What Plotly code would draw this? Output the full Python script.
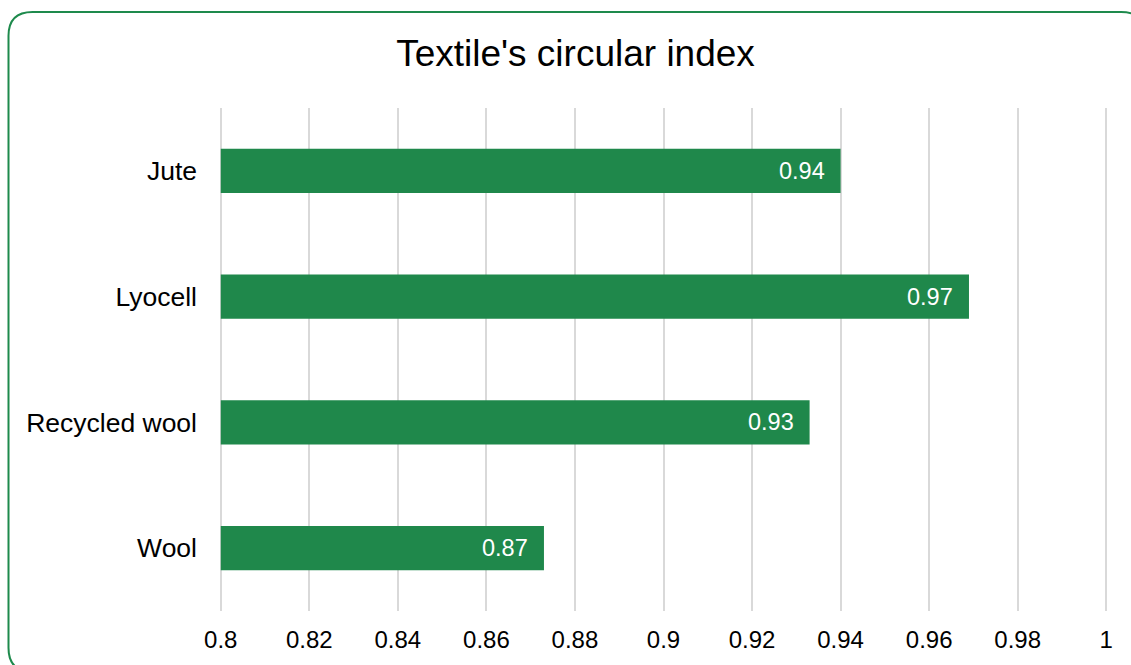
import plotly.graph_objects as go

categories = ["Jute", "Lyocell", "Recycled wool", "Wool"]
values = [0.940, 0.969, 0.933, 0.873]
x_ticks = [0.8, 0.82, 0.84, 0.86, 0.88, 0.9, 0.92, 0.94, 0.96, 0.98, 1.0]
x_tick_labels = ["0.8", "0.82", "0.84", "0.86", "0.88", "0.9", "0.92", "0.94", "0.96", "0.98", "1"]
axis_min = 0.8

GREEN = "#1f884b"
FONT = "Arial, Liberation Sans, sans-serif"
W, H = 1131, 665
ML, MR, MT, MB = 219, 23, 108, 52
PW, PH = W - ML - MR, H - MT - MB

fig = go.Figure()
fig.add_trace(go.Bar(
    y=categories, x=[v - axis_min for v in values], base=axis_min, orientation="h",
    marker=dict(color=GREEN, line=dict(width=0)),
    width=0.35,
    hoverinfo="skip",
))

for c, v in zip(categories, values):
    fig.add_annotation(x=v, y=c, xref="x", yref="y", text=f"{v:.2f}",
                       showarrow=False, xanchor="right", xshift=-14,
                       font=dict(color="white", size=23.5, family=FONT))

def px(x):
    return (x - ML) / PW

def py(y):
    return (H - MB - y) / PH

x0, x1, y0, y1, r = 8.5, 1145, 11.5, 674, 24
path = (f"M {px(x0+r)},{py(y0)} L {px(x1-r)},{py(y0)} "
        f"Q {px(x1)},{py(y0)} {px(x1)},{py(y0+r)} L {px(x1)},{py(y1-r)} "
        f"Q {px(x1)},{py(y1)} {px(x1-r)},{py(y1)} L {px(x0+r)},{py(y1)} "
        f"Q {px(x0)},{py(y1)} {px(x0)},{py(y1-r)} L {px(x0)},{py(y0+r)} "
        f"Q {px(x0)},{py(y0)} {px(x0+r)},{py(y0)} Z")
fig.add_shape(type="path", path=path, xref="paper", yref="paper",
              line=dict(color="#1e8a4c", width=2), layer="above")

fig.update_layout(
    width=W, height=H,
    margin=dict(l=ML, r=MR, t=MT, b=MB),
    paper_bgcolor="white", plot_bgcolor="white",
    showlegend=False,
    font=dict(family=FONT, color="black"),
    title=dict(text="Textile's circular index", x=0.5 + 0.5 / W * 20, xref="container", xanchor="center",
               y=1 - 53 / H, yanchor="middle", yref="container",
               font=dict(size=37, color="black", family=FONT)),
    xaxis=dict(range=[0.7996, 1.0004], tickvals=x_ticks, ticktext=x_tick_labels,
               showgrid=True, gridcolor="#d9d9d9", gridwidth=2,
               zeroline=False, showline=False, ticks="",
               ticklabelstandoff=12, tickfont=dict(size=24)),
    yaxis=dict(categoryorder="array", categoryarray=categories[::-1],
               range=[-0.5, 3.5], showgrid=False, zeroline=False, showline=False,
               ticks="", ticklabelstandoff=21, tickfont=dict(size=26.5)),
)

fig.write_html("out.html")
